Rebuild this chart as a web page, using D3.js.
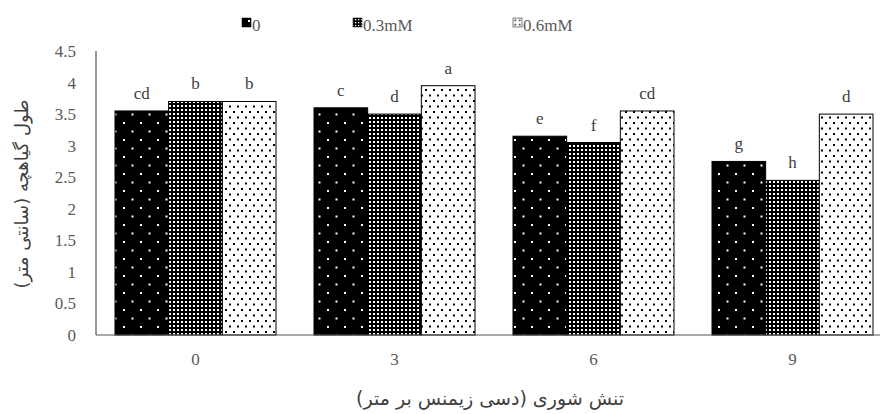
<!DOCTYPE html>
<html>
<head>
<meta charset="utf-8">
<script src="https://cdn.jsdelivr.net/npm/d3@7"></script>
<style>
  body { margin: 0; background: #fff; }
  svg { display: block; font-family: "Liberation Serif", "DejaVu Sans", serif; }
  .axis text { font-family: "Liberation Serif", serif; font-size: 17px; fill: #595959; }
</style>
</head>
<body>
<svg id="chart" width="880" height="414"></svg>
<script>
// data
var salinity = ["0", "3", "6", "9"];
var series = ["0", "0.3mM", "0.6mM"];
var values0 = [3.55, 3.6, 3.15, 2.75];
var values03 = [3.7, 3.5, 3.05, 2.45];
var values06 = [3.7, 3.95, 3.55, 3.5];
var letters0 = ["cd", "c", "e", "g"];
var letters03 = ["b", "d", "f", "h"];
var letters06 = ["b", "a", "cd", "d"];
var yTicks = [0, 0.5, 1, 1.5, 2, 2.5, 3, 3.5, 4, 4.5];
var yTitle = "طول گیاهچه (سانتی متر)";
var xTitle = "تنش شوری (دسی زیمنس بر متر)";

var svg = d3.select("#chart");
var margin = {left: 96, top: 50, bottom: 335};

var allValues = [values0, values03, values06];
var allLetters = [letters0, letters03, letters06];

var x0 = d3.scaleBand().domain(salinity).range([margin.left, 892]);
var x1 = d3.scaleBand().domain(series).range([19, 180]);
var y = d3.scaleLinear().domain([0, 4.5]).range([margin.bottom, 51]);

// fill patterns
var defs = svg.append("defs");
function makePattern(id, w, h, bg, fg, dots) {
  var p = defs.append("pattern").attr("id", id).attr("patternUnits", "userSpaceOnUse")
    .attr("width", w).attr("height", h);
  p.append("rect").attr("width", w).attr("height", h).attr("fill", bg);
  dots.forEach(function(d) {
    p.append("rect").attr("x", d[0]).attr("y", d[1]).attr("width", d[2]).attr("height", d[2]).attr("fill", fg);
  });
}
makePattern("pat0", 17, 17, "#000", "#fff", [[4, 3, 2], [12.5, 11.5, 2]]);
makePattern("pat1", 4, 4, "#000", "#fff", [[1, 1, 2]]);
makePattern("pat2", 8, 11, "#fff", "#000", [[1, 1, 2], [5, 6.5, 2]]);
// smaller versions for the legend keys
makePattern("leg0", 9, 9, "#000", "#fff", [[5, 2, 2]]);
makePattern("leg1", 3, 3, "#000", "#fff", [[1, 1, 1.3]]);
makePattern("leg2", 4.5, 4.5, "#fff", "#000", [[1.5, 1.5, 1.5]]);

var fills = ["url(#pat0)", "url(#pat1)", "url(#pat2)"];
var legendFills = ["url(#leg0)", "url(#leg1)", "url(#leg2)"];

// bars
series.forEach(function(s, si) {
  var g = svg.append("g");
  g.selectAll("rect")
    .data(allValues[si])
    .enter()
    .append("rect")
    .attr("x", function(d, i) { return x0(salinity[i]) + x1(s); })
    .attr("y", function(d) { return y(d); })
    .attr("width", x1.bandwidth())
    .attr("height", function(d) { return y(0) - y(d); })
    .attr("fill", fills[si])
    .attr("stroke", "#000")
    .attr("stroke-width", 1);

  g.selectAll("text")
    .data(allLetters[si])
    .enter()
    .append("text")
    .attr("x", function(d, i) { return x0(salinity[i]) + x1(s) + x1.bandwidth() / 2; })
    .attr("y", function(d, i) { return y(allValues[si][i]) - 12; })
    .attr("text-anchor", "middle")
    .attr("font-size", 17)
    .attr("fill", "#404040")
    .text(function(d) { return d; });
});

// axes
var yAxis = d3.axisLeft(y).tickValues(yTicks).tickSize(0).tickPadding(20)
  .tickFormat(function(d) { return String(d); });
var ya = svg.append("g").attr("class", "axis").attr("transform", "translate(" + margin.left + ",0)").call(yAxis);
ya.select(".domain").attr("stroke", "#333").attr("d", "M0," + y(4.5) + "V" + y(0));

var xAxis = d3.axisBottom(x0).tickSize(0).tickPadding(18);
var xa = svg.append("g").attr("class", "axis").attr("transform", "translate(0," + y(0) + ")").call(xAxis);
xa.select(".domain").attr("stroke", "#555").attr("d", "M" + margin.left + ",0H880");

// titles
svg.append("text")
  .attr("transform", "translate(28,194) rotate(-90)")
  .attr("text-anchor", "middle")
  .attr("font-size", 18)
  .attr("fill", "#404040")
  .attr("font-family", "DejaVu Sans")
  .attr("direction", "rtl")
  .text(yTitle);

svg.append("text")
  .attr("x", 490)
  .attr("y", 405)
  .attr("text-anchor", "middle")
  .attr("font-size", 19)
  .attr("fill", "#404040")
  .attr("font-family", "DejaVu Sans")
  .attr("direction", "rtl")
  .text(xTitle);

// legend
var legendX = [242, 353, 513];
var legend = svg.append("g");
series.forEach(function(s, si) {
  legend.append("rect")
    .attr("x", legendX[si]).attr("y", 18)
    .attr("width", 9).attr("height", 9)
    .attr("fill", legendFills[si]).attr("stroke", "#000").attr("stroke-width", 0.5);
  legend.append("text")
    .attr("x", legendX[si] + 10).attr("y", 31)
    .attr("font-size", 17).attr("fill", "#595959")
    .text(s);
});
</script>
</body>
</html>
